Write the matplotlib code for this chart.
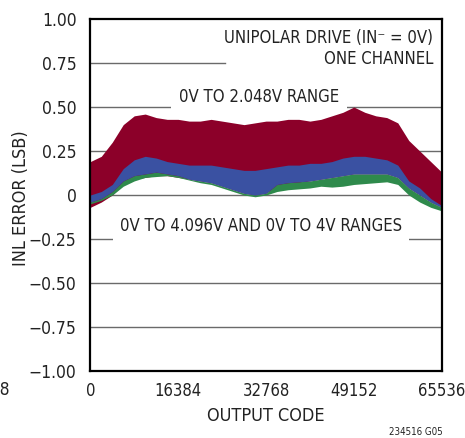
import matplotlib

matplotlib.use("Agg")
import matplotlib.pyplot as plt

codes = [
    0, 2048, 4096, 6144, 8192, 10240, 12288, 14336, 16384, 18432, 20480,
    22528, 24576, 26624, 28672, 30720, 32768, 34816, 36864, 38912, 40960,
    43008, 45056, 47104, 49152, 51200, 53248, 55296, 57344, 59392, 61440,
    63488, 65536,
]

# 0V to 2.048V range (red band)
red_hi = [
    0.19, 0.22, 0.30, 0.40, 0.45, 0.46, 0.44, 0.43, 0.43, 0.42, 0.42,
    0.43, 0.42, 0.41, 0.40, 0.41, 0.42, 0.42, 0.43, 0.43, 0.42,
    0.43, 0.45, 0.47, 0.50, 0.47, 0.45, 0.44, 0.41, 0.31, 0.25,
    0.19, 0.13,
]
red_lo = [
    -0.07, -0.04, 0.00, 0.06, 0.09, 0.10, 0.11, 0.11, 0.10, 0.09, 0.08,
    0.07, 0.05, 0.03, 0.01, 0.00, 0.01, 0.05, 0.06, 0.07, 0.08,
    0.09, 0.10, 0.11, 0.12, 0.12, 0.12, 0.12, 0.10, 0.04, 0.00,
    -0.04, -0.07,
]

# 0V to 4.096V range (blue band)
blue_hi = [
    0.00, 0.02, 0.06, 0.15, 0.20, 0.22, 0.21, 0.19, 0.18, 0.17, 0.17,
    0.17, 0.16, 0.15, 0.14, 0.14, 0.15, 0.16, 0.17, 0.17, 0.18,
    0.18, 0.19, 0.21, 0.22, 0.22, 0.21, 0.20, 0.17, 0.08, 0.04,
    -0.02, -0.06,
]
blue_lo = [
    -0.04, -0.02, 0.02, 0.08, 0.11, 0.12, 0.13, 0.12, 0.11, 0.09, 0.08,
    0.07, 0.05, 0.03, 0.01, 0.00, 0.01, 0.06, 0.07, 0.075, 0.08,
    0.09, 0.10, 0.11, 0.12, 0.12, 0.12, 0.12, 0.10, 0.04, 0.00,
    -0.04, -0.07,
]

# 0V to 4V range (green band, lower edge)
green_lo = [
    -0.05, -0.03, 0.00, 0.05, 0.08, 0.10, 0.105, 0.11, 0.10, 0.085, 0.07,
    0.06, 0.04, 0.02, 0.00, -0.01, 0.00, 0.02, 0.03, 0.035, 0.04,
    0.05, 0.045, 0.05, 0.06, 0.065, 0.07, 0.075, 0.06, 0.00, -0.04,
    -0.07, -0.09,
]

y_ticks = [1.00, 0.75, 0.50, 0.25, 0, -0.25, -0.50, -0.75, -1.00]
y_labels = ["1.00", "0.75", "0.50", "0.25", "0", "\u22120.25", "\u22120.50",
            "\u22120.75", "\u22121.00"]
x_ticks = [0, 16384, 32768, 49152, 65536]

RED = "#8C0029"
BLUE = "#3A51A2"
GREEN = "#2F8A4C"
GRID = "#6a6a6a"
TXT = "#222222"

plt.rcParams["font.family"] = ["DejaVu Sans"]
plt.rcParams["font.stretch"] = "condensed"

fig = plt.figure(figsize=(4.65, 4.38), dpi=100)
ax = fig.add_axes([0.1942, 0.1530, 0.7557, 0.8035])

# the 0.75 grid line stops short of the header text
for yv in y_ticks[1:-1]:
    xmax = 0.383 if yv == 0.75 else 1.0
    ax.axhline(yv, xmax=xmax, color=GRID, lw=1.0, zorder=1)

ax.fill_between(codes, red_lo, red_hi, color=RED, lw=0, zorder=2)
ax.fill_between(codes, green_lo, blue_lo, color=GREEN, lw=0, zorder=3)
ax.fill_between(codes, blue_lo, blue_hi, color=BLUE, lw=0, zorder=4)

ax.set_xlim(0, 65536)
ax.set_ylim(-1.0, 1.0)
ax.set_xticks(x_ticks)
ax.set_xticklabels([str(v) for v in x_ticks])
ax.set_yticks(y_ticks)
ax.set_yticklabels(y_labels)
ax.tick_params(length=0, labelsize=12.5, colors=TXT, pad=10)
ax.tick_params(axis="x", labelsize=12, pad=8)
for sp in ax.spines.values():
    sp.set_linewidth(1.6)
    sp.set_color("black")
    sp.set_zorder(6)

ax.set_xlabel("OUTPUT CODE", fontsize=13, color=TXT)
ax.set_ylabel("INL ERROR (LSB)", fontsize=13, color=TXT)
ax.xaxis.set_label_coords(0.5, -0.103)
ax.yaxis.set_label_coords(-0.172, 0.49)

ax.text(
    0.975, 0.972, "UNIPOLAR DRIVE (IN\u207b = 0V)\nONE CHANNEL",
    transform=ax.transAxes, ha="right", va="top", multialignment="right",
    fontsize=12, color=TXT, linespacing=1.25, zorder=1.5,
)
ax.text(
    31460, 0.555, "0V TO 2.048V RANGE", ha="center", va="center",
    fontsize=12, color=TXT,
    bbox=dict(boxstyle="square,pad=0.5", fc="white", ec="none"), zorder=1.5,
)
ax.text(
    31840, -0.175, "0V TO 4.096V AND 0V TO 4V RANGES", ha="center", va="center",
    fontsize=12, color=TXT,
    bbox=dict(boxstyle="square,pad=0.4", fc="white", ec="none"), zorder=1.5,
)

fig.text(443 / 465, 1 - 432 / 438, "234516 G05", ha="right", va="center",
         fontsize=7, color=TXT)
fig.text(10 / 465, 1 - 390 / 438, "32768", ha="right", va="center",
         fontsize=12.5, color=TXT)

fig.savefig("out.png", dpi=100)
